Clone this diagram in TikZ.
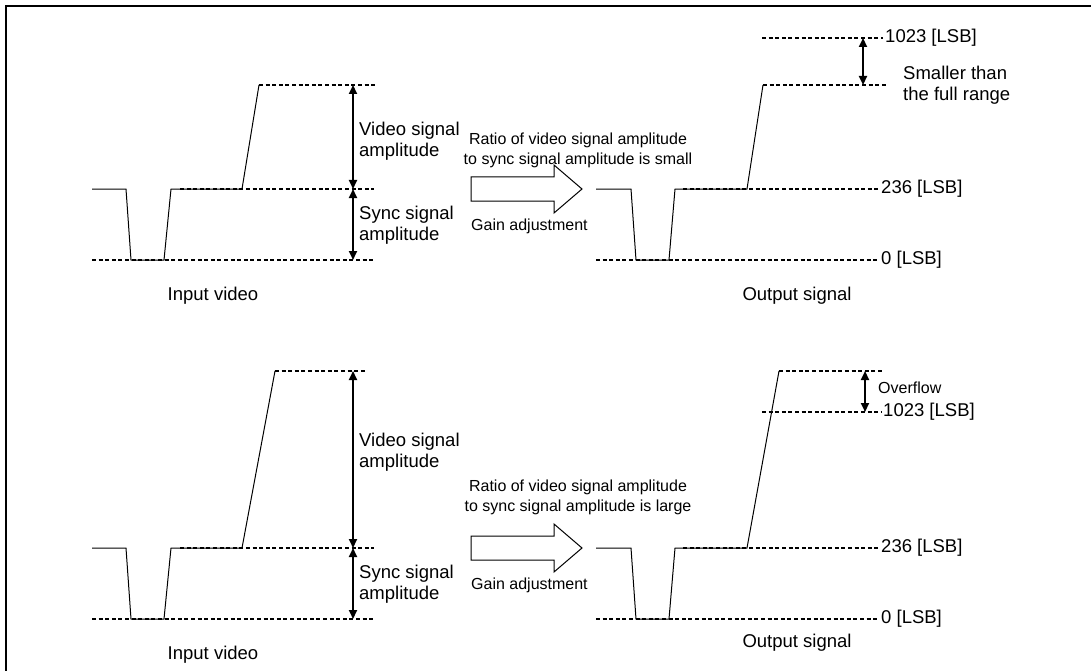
\documentclass[tikz,border=0pt]{standalone}
\usepackage{fontspec}
\setmainfont{Liberation Sans}
\usetikzlibrary{arrows.meta}

\begin{document}
\begin{tikzpicture}[x=1pt,y=-1pt,
  sig/.style={line width=1pt},
  lvl/.style={line width=1.3pt,dash pattern=on 4pt off 2.6pt},
  amp/.style={line width=2pt,{Triangle[length=9pt,width=8pt]}-{Triangle[length=9pt,width=8pt]}},
  lbl/.style={font=\fontsize{18.5}{21.5}\selectfont,align=left,inner sep=0pt},
  lsb/.style={lbl,anchor=west,inner xsep=2pt},
  sml/.style={font=\fontsize{16}{20}\selectfont,align=center,inner sep=0pt}]
\useasboundingbox (0,0) rectangle (1091,671);
\draw[line width=2pt] (6,671)--(6,6)--(1091,6);
% shared parts of both panels
\foreach \dy/\ty/\ix/\ie/\ox/\oe [count=\p] in {0/85/259/377/763/888,359/371/275/366/779/882}{
  \draw[sig] (92,189+\dy)--(126,189+\dy)--(131,260+\dy)--(164,260+\dy)--(171,189+\dy)--(242,189+\dy)--(\ix,\ty);
  \draw[lvl] (\ix,\ty)--(\ie,\ty);
  \draw[lvl] (180,189+\dy)--(374,189+\dy);
  \draw[lvl] (92,260+\dy)--(374,260+\dy);
  \coordinate (vt\p) at (353,\ty);
  \coordinate (vm\p) at (353,189+\dy);
  \coordinate (vb\p) at (353,260+\dy);
  \draw[amp] (vt\p)--(vm\p);
  \draw[amp] (vm\p)--(vb\p);
  \node[lbl,anchor=west] (sync\p) at (359,225+\dy) {Sync signal\\amplitude};
  \node[lbl] (in\p) at (213,296+\dy) {Input video};
  \draw[line width=1pt] (471,177+\dy)--(554,177+\dy)--(554,165+\dy)--(582,189+\dy)--(554,213+\dy)--(554,201+\dy)--(471,201+\dy)--cycle;
  \node[sml,anchor=west] (gain\p) at (471,226+\dy) {Gain adjustment};
  \draw[sig] (596,189+\dy)--(631,189+\dy)--(636,260+\dy)--(669,260+\dy)--(675,189+\dy)--(747,189+\dy)--(\ox,\ty);
  \draw[lvl] (\ox,\ty)--(\oe,\ty);
  \node[lsb] (mid\p) at (879,189+\dy) {236 [LSB]};
  \node[lsb] (zero\p) at (879,260+\dy) {0 [LSB]};
  \draw[lvl] (683,189+\dy)--(mid\p.west);
  \draw[lvl] (596,260+\dy)--(zero\p.west);
}
% upper panel
\node[lbl,anchor=west] (vid1) at (359,141) {Video signal\\amplitude};
\node[sml] (ratio1) at (578,150) {Ratio of video signal amplitude\\to sync signal amplitude is small};
\node[lbl] (out1) at (797,296) {Output signal};
\node[lsb] (full1) at (883,38) {1023 [LSB]};
\draw[lvl] (762,38)--(full1.west);
\coordinate (st) at (863,38);
\coordinate (sb) at (863,85);
\draw[amp] (st)--(sb);
\node[lbl,anchor=west] (smaller) at (903,85) {Smaller than\\the full range};
% lower panel
\node[lbl,anchor=west] (vid2) at (359,452) {Video signal\\amplitude};
\node[sml] (ratio2) at (578,497) {Ratio of video signal amplitude\\to sync signal amplitude is large};
\node[lbl] (out2) at (797,643) {Output signal};
\node[lsb] (full2) at (881,412) {1023 [LSB]};
\draw[lvl] (762,412)--(full2.west);
\coordinate (ot) at (865,371);
\coordinate (ob) at (865,412);
\draw[amp] (ot)--(ob);
\node[sml,anchor=west] (over) at (878,388) {Overflow};
\end{tikzpicture}
\end{document}
